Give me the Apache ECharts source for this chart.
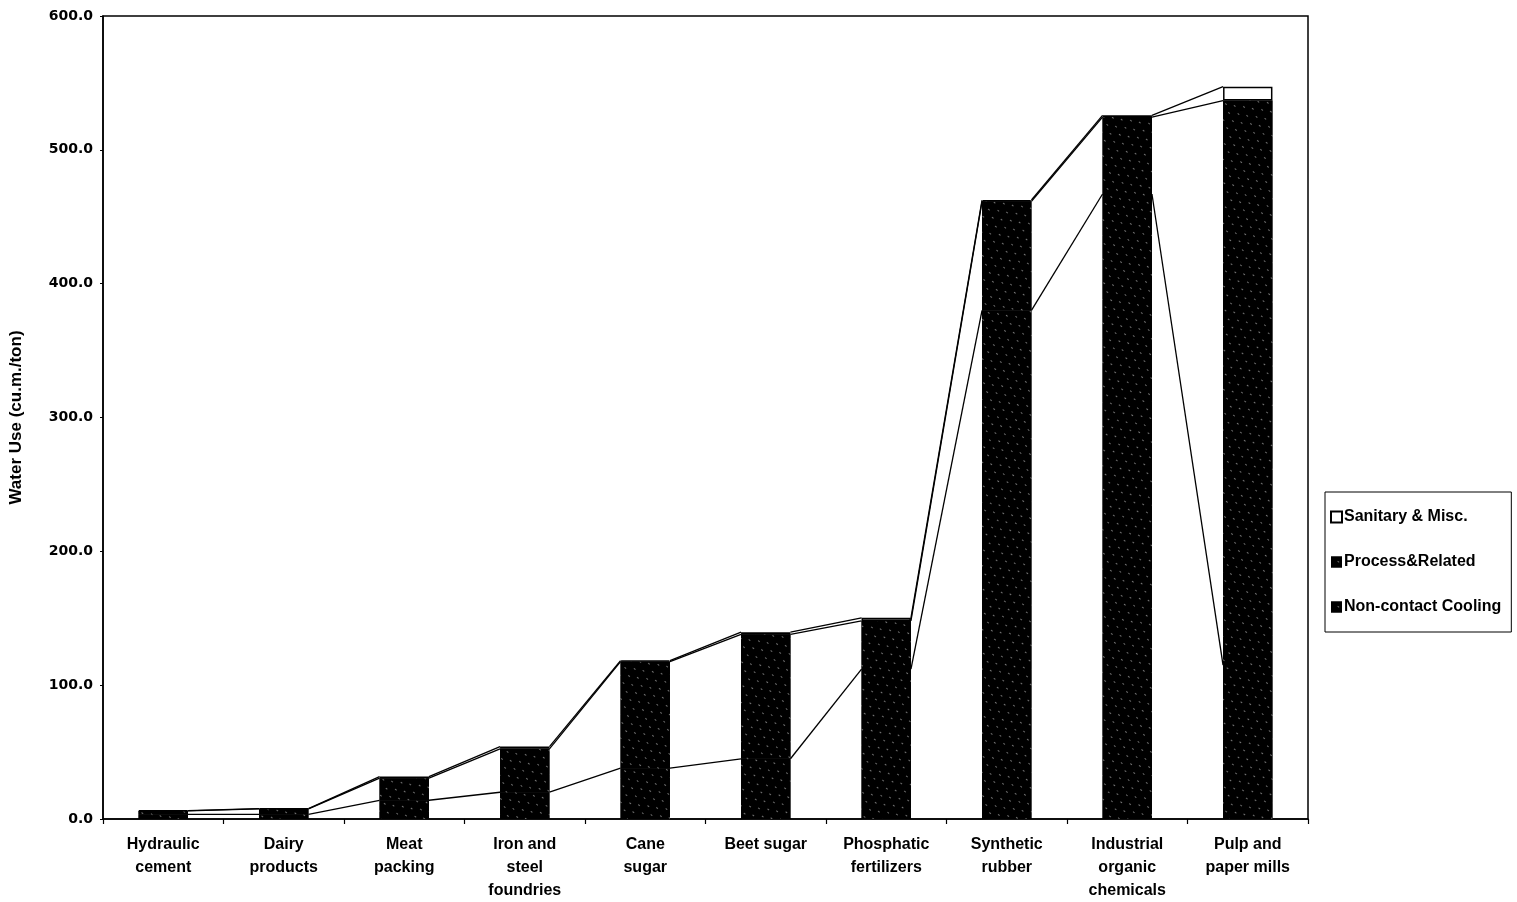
<!DOCTYPE html>
<html>
<head>
<meta charset="utf-8">
<script src="https://cdn.jsdelivr.net/npm/echarts@6/dist/echarts.min.js"></script>
<style>
html,body{margin:0;padding:0;background:#fff;}
#chart{width:1517px;height:902px;}
</style>
</head>
<body>
<div id="chart"></div>
<script>
const categories = ["Hydraulic\ncement", "Dairy\nproducts", "Meat\npacking", "Iron and\nsteel\nfoundries", "Cane\nsugar", "Beet sugar", "Phosphatic\nfertilizers", "Synthetic\nrubber", "Industrial\norganic\nchemicals", "Pulp and\npaper mills"];
const cooling  = [3.5, 3.5, 14, 20, 38, 45, 112, 380, 467, 115];
const process  = [2.5, 4.0, 16.5, 32.4, 79.6, 93, 36, 81.5, 57.5, 421.8];
const sanitary = [0.3, 0.3, 1.2, 1.7, 0.8, 1.6, 2.3, 1.0, 1.3, 10.4];
const yTicks = [0, 100, 200, 300, 400, 500, 600];

const BAR_FRAC = 0.41;
const FONT = '"Liberation Sans", Arial, sans-serif';
const WIDE = '"DejaVu Sans", "Liberation Sans", sans-serif';

// cumulative levels for series lines
const levels = [
  cooling.map((v, i) => v),
  cooling.map((v, i) => v + process[i]),
  cooling.map((v, i) => v + process[i] + sanitary[i])
];
const lineData = [];
levels.forEach(lv => {
  for (let i = 0; i < lv.length - 1; i++) lineData.push([i, lv[i], lv[i + 1]]);
});

const darkDecal = {
  symbol: 'rect',
  symbolSize: 0.7,
  color: 'rgba(255,255,255,0.85)',
  backgroundColor: '#000',
  dashArrayX: [[1, 8], [0, 5, 1, 3]],
  dashArrayY: [2, 6],
  rotation: -0.9
};

const chart = echarts.init(document.getElementById('chart'), null, {renderer: 'canvas'});
chart.setOption({
  animation: false,
  backgroundColor: '#fff',
  grid: {left: 102, right: 209, top: 16, bottom: 82, show: true, borderColor: '#000', borderWidth: 1.5},
  legend: {
    orient: 'vertical',
    left: 1325, top: 492,
    padding: [17, 10, 17, 5],
    itemGap: 29,
    itemWidth: 11, itemHeight: 11,
    borderColor: '#000', borderWidth: 1,
    icon: 'rect',
    textStyle: {fontFamily: FONT, fontWeight: 'bold', fontSize: 16, color: '#000', padding: [0, 0, 0, -3]},
    data: ['Sanitary & Misc.', 'Process&Related', 'Non-contact Cooling']
  },
  xAxis: {
    type: 'category',
    data: categories,
    axisLine: {lineStyle: {color: '#000', width: 1.5}},
    axisTick: {show: true, inside: false, length: 5, lineStyle: {color: '#000', width: 1.2}},
    axisLabel: {interval: 0, margin: 14, fontFamily: FONT, fontWeight: 'bold', fontSize: 16, lineHeight: 23, color: '#000'}
  },
  yAxis: {
    type: 'value',
    min: 0, max: 600, interval: 100,
    name: 'Water Use (cu.m./ton)',
    nameLocation: 'middle',
    nameGap: 78,
    nameTextStyle: {fontFamily: FONT, fontWeight: 'bold', fontSize: 17, color: '#000'},
    axisLine: {show: true, lineStyle: {color: '#000', width: 1.5}},
    axisTick: {show: true, length: 3, lineStyle: {color: '#000'}},
    splitLine: {show: false},
    axisLabel: {margin: 10, fontFamily: WIDE, fontWeight: 'bold', fontSize: 14, color: '#000', padding: [8, 0, 0, 0],
      formatter: v => yTicks.includes(v) ? v.toFixed(1) : ''}
  },
  series: [
    {name: 'Non-contact Cooling', type: 'bar', stack: 'all', barWidth: (BAR_FRAC * 100) + '%', data: cooling,
     itemStyle: {color: '#000', borderWidth: 0, decal: darkDecal}},
    {name: 'Process&Related', type: 'bar', stack: 'all', data: process,
     itemStyle: {color: '#000', borderWidth: 0, decal: darkDecal}},
    {name: 'Sanitary & Misc.', type: 'bar', stack: 'all', data: sanitary,
     itemStyle: {color: '#fff', borderColor: '#000', borderWidth: 1.5}},
    {name: 'series lines', type: 'custom', data: lineData, z: 5, silent: true,
     encode: {x: 0, y: [1, 2]},
     renderItem: function (params, api) {
       const i = api.value(0);
       const a = api.coord([i, api.value(1)]);
       const b = api.coord([i + 1, api.value(2)]);
       const bw = api.size([1, 0])[0] * BAR_FRAC;
       return {type: 'line', shape: {x1: a[0] + bw / 2, y1: a[1], x2: b[0] - bw / 2, y2: b[1]},
               style: {stroke: '#000', lineWidth: 1.3}};
     }}
  ]
});
</script>
</body>
</html>
